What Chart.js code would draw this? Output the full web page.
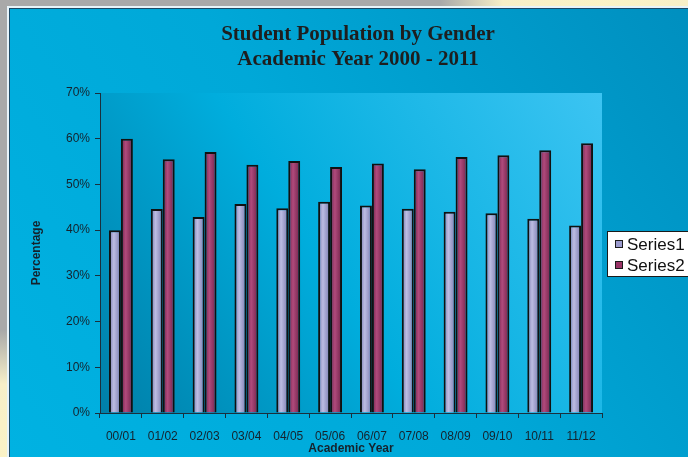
<!DOCTYPE html>
<html>
<head>
<meta charset="utf-8">
<script src="https://cdn.jsdelivr.net/npm/chart.js@4.4.1/dist/chart.umd.min.js"></script>
<style>
  html, body { margin: 0; padding: 0; overflow: hidden; background: #a9a9a9; }
  canvas { display: block; }
</style>
</head>
<body>
<canvas id="grafico" width="688" height="457"></canvas>
<script>
// Datos
const years = ['00/01', '01/02', '02/03', '03/04', '04/05', '05/06', '06/07', '07/08', '08/09', '09/10', '10/11', '11/12'];
const series1 = [40.0, 44.6, 42.9, 45.7, 44.8, 46.2, 45.4, 44.7, 44.0, 43.7, 42.5, 41.0];
const series2 = [60.0, 55.5, 57.1, 54.3, 55.1, 53.8, 54.6, 53.3, 56.0, 56.4, 57.5, 59.0];
const yTicks = [0, 10, 20, 30, 40, 50, 60, 70];

const CAT_PCT = 2 / 3.5;

// relleno con brillo vertical como en Excel
function relleno(base, claro, oscuro) {
    return (c) => {
        const chart = c.chart;
        const xs = chart.scales && chart.scales.x;
        if (!xs || c.dataIndex == null || !(xs.width > 0)) return base;
        const n = chart.data.datasets.length;
        const barW = xs.width / years.length * CAT_PCT / n;
        const centro = xs.getPixelForValue(c.dataIndex) + (c.datasetIndex - (n - 1) / 2) * barW;
        const x0 = centro - barW / 2;
        const g = chart.ctx.createLinearGradient(x0, 0, x0 + barW, 0);
        g.addColorStop(0, oscuro);
        g.addColorStop(0.4, claro);
        g.addColorStop(1, oscuro);
        return g;
    };
}

// fondo, marco y area de trazado
const fondo = {
    id: 'fondo',
    beforeDraw(chart) {
        const ctx = chart.ctx, W = chart.width, H = chart.height;
        ctx.save();
        ctx.fillStyle = '#a9a9a9';
        ctx.fillRect(0, 0, W, H);
        let r = ctx.createRadialGradient(600, -10, 5, 600, -10, 160);
        r.addColorStop(0, '#fbf3c6');
        r.addColorStop(0.6, '#f7efc8');
        r.addColorStop(1, 'rgba(247,239,200,0)');
        ctx.fillStyle = r;
        ctx.fillRect(0, 0, W, H);
        r = ctx.createRadialGradient(0, 470, 5, 0, 470, 140);
        r.addColorStop(0, '#fbf3c6');
        r.addColorStop(0.6, '#f7efc8');
        r.addColorStop(1, 'rgba(247,239,200,0)');
        ctx.fillStyle = r;
        ctx.fillRect(0, 0, W, H);
        // lineas del marco
        ctx.fillStyle = '#e8f4fa';
        ctx.fillRect(7, 6, W - 7, H - 6);
        ctx.fillStyle = '#1d4a66';
        ctx.fillRect(9, 8, W - 9, H - 8);
        // fondo del grafico
        const g = ctx.createLinearGradient(10, H, W, 0);
        g.addColorStop(0, '#00b2e2');
        g.addColorStop(0.5, '#00a8d8');
        g.addColorStop(1, '#008fbf');
        ctx.fillStyle = g;
        ctx.fillRect(10, 9, W - 10, H - 9);
        // area de trazado
        const a = chart.chartArea;
        const p = ctx.createLinearGradient(a.left, a.bottom, a.right, a.top);
        p.addColorStop(0, '#007fa8');
        p.addColorStop(0.45, '#00addd');
        p.addColorStop(1, '#3cc4f2');
        ctx.fillStyle = p;
        ctx.fillRect(a.left, a.top, a.right - a.left, a.bottom - a.top);
        ctx.restore();
    }
};

// leyenda al estilo Excel, recortada por el borde derecho
const leyenda = {
    id: 'leyenda',
    afterDraw(chart) {
        const ctx = chart.ctx;
        const x = 607, y = 231;
        ctx.save();
        ctx.fillStyle = '#ffffff';
        ctx.strokeStyle = '#1a1a1a';
        ctx.lineWidth = 1;
        ctx.fillRect(x, y, 100, 45);
        ctx.strokeRect(x + 0.5, y + 0.5, 100, 45);
        ctx.font = '17px "Liberation Sans", Arial, sans-serif';
        ctx.textBaseline = 'middle';
        chart.data.datasets.forEach((ds, i) => {
            const cy = y + 13 + i * 21;
            ctx.fillStyle = ds.legendColor;
            ctx.fillRect(615, cy - 4, 8, 8);
            ctx.strokeRect(615.5, cy - 3.5, 7, 7);
            ctx.fillStyle = '#111111';
            ctx.fillText(ds.label, 627, cy + 1);
        });
        ctx.restore();
    }
};

const ejeFuente = { family: '"Liberation Sans", Arial, sans-serif', size: 12 };
const tituloEje = { family: '"Liberation Sans Narrow", "Liberation Sans", sans-serif', size: 12, weight: 'bold' };

const ctx = document.getElementById('grafico').getContext('2d');
const grafico = new Chart(ctx, {
    type: 'bar',
    data: {
        labels: years,
        datasets: [{
            label: 'Series1',
            data: series1,
            legendColor: '#9a9acd',
            backgroundColor: relleno('#9a9acd', '#bcbce2', '#7a7aae'),
            borderColor: '#111111',
            borderWidth: 2,
            borderSkipped: 'bottom',
            categoryPercentage: CAT_PCT,
            barPercentage: 1
        }, {
            label: 'Series2',
            data: series2,
            legendColor: '#993366',
            backgroundColor: relleno('#993366', '#b04a7c', '#6e2248'),
            borderColor: '#111111',
            borderWidth: 2,
            borderSkipped: 'bottom',
            categoryPercentage: CAT_PCT,
            barPercentage: 1
        }]
    },
    options: {
        responsive: false,
        animation: false,
        layout: { padding: { top: 9, right: 0, bottom: 0, left: 28 } },
        plugins: {
            legend: { display: false },
            tooltip: { enabled: false },
            title: {
                display: true,
                text: ['Student Population by Gender', 'Academic Year 2000 - 2011'],
                color: '#1e1e1e',
                font: { family: '"Liberation Serif", serif', size: 21, weight: 'bold', lineHeight: 1.15 },
                padding: { top: 14, bottom: 21.7 }
            }
        },
        scales: {
            x: {
                grid: { drawOnChartArea: false, drawTicks: true, tickLength: 5, color: '#1a2f3d', offset: true },
                border: { display: true, color: '#1a2f3d', width: 1 },
                ticks: { color: '#15222c', font: ejeFuente, padding: 11, maxRotation: 0, autoSkip: false },
                title: {
                    display: true,
                    text: 'Academic Year',
                    color: '#15222c',
                    font: tituloEje,
                    padding: { top: 0, bottom: 1 }
                },
                afterFit: (s) => { s.height = 44; }
            },
            y: {
                min: 0,
                max: 70,
                afterBuildTicks: (s) => { s.ticks = yTicks.map(v => ({ value: v })); },
                grid: { drawOnChartArea: false, drawTicks: true, tickLength: 5, color: '#1a2f3d' },
                border: { display: true, color: '#1a2f3d', width: 1 },
                ticks: {
                    color: '#15222c',
                    font: ejeFuente,
                    padding: 5,
                    callback: (v) => v + '%'
                },
                title: {
                    display: true,
                    text: 'Percentage',
                    color: '#15222c',
                    font: tituloEje,
                    padding: { top: 1, bottom: 0 }
                },
                afterFit: (s) => { s.width = 72; }
            },
            // eje vacio que reserva el hueco de la leyenda
            hueco: {
                type: 'linear',
                position: 'right',
                display: true,
                grid: { display: false },
                border: { display: false },
                ticks: { display: false },
                afterFit: (s) => { s.width = 86; }
            }
        }
    },
    plugins: [fondo, leyenda]
});
</script>
</body>
</html>
